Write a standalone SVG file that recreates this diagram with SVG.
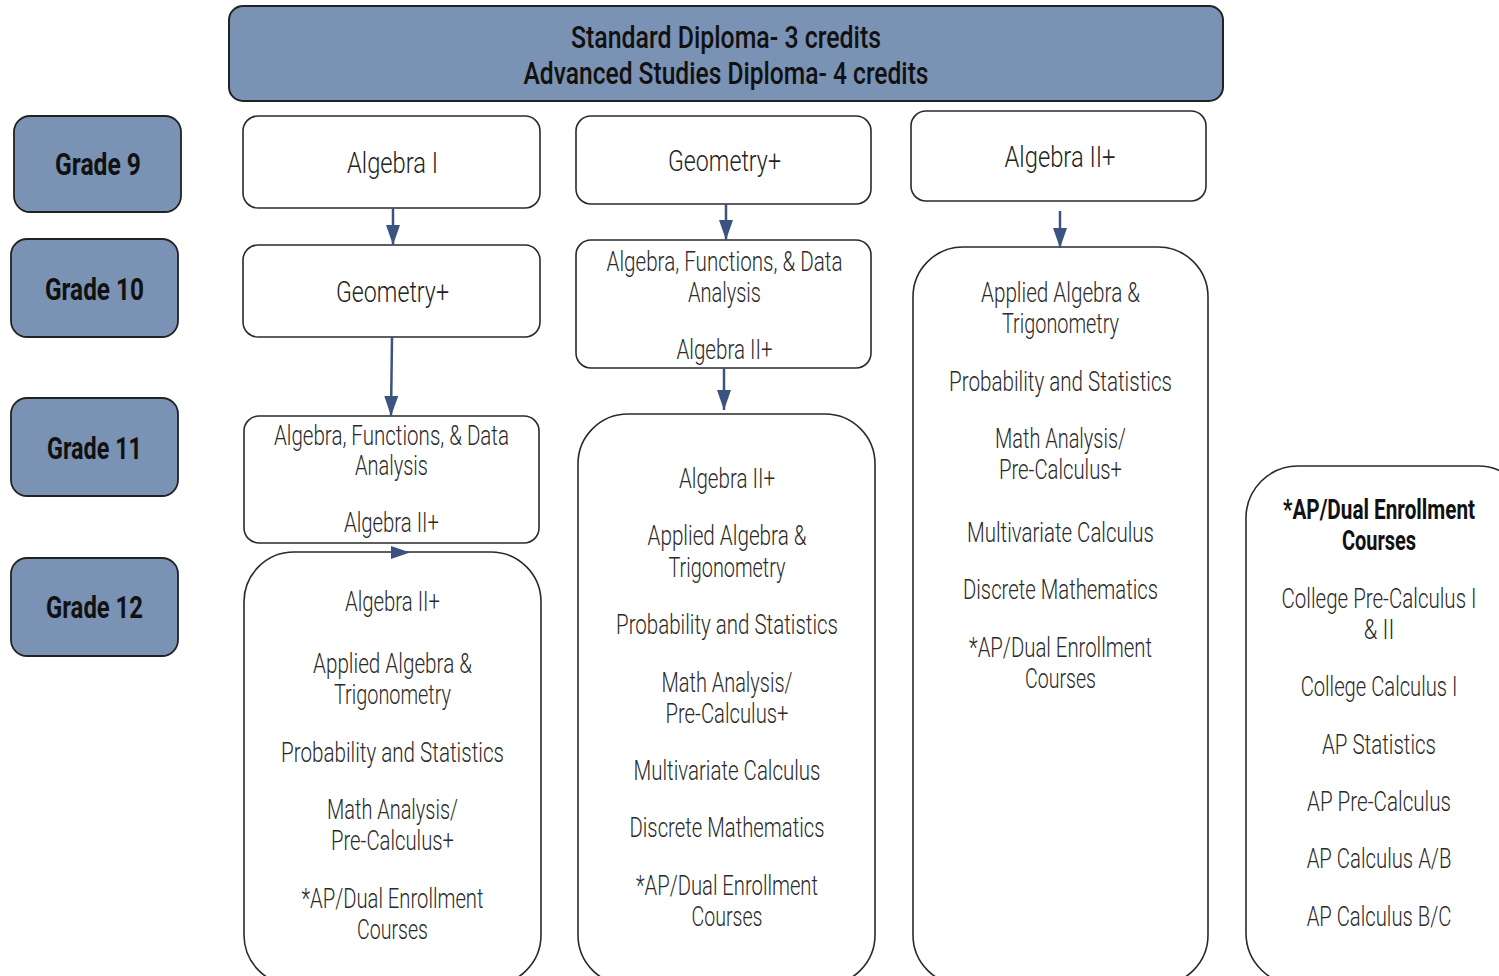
<svg xmlns="http://www.w3.org/2000/svg" width="1499" height="976" viewBox="0 0 1499 976">
<defs>
<style>
.hdr{fill:#7a92b3;stroke:#222;stroke-width:2}
.grade{fill:#7a92b3;stroke:#222;stroke-width:1.8}
.box{fill:#fff;stroke:#2a2a2a;stroke-width:1.6}
text{font-family:Roboto,"Liberation Sans",sans-serif;text-anchor:middle}
.ht{font-size:31px;font-weight:500;fill:#111}
.gt{font-size:31px;font-weight:700;fill:#111}
.tt{font-size:30px;font-weight:300;fill:#222}
.lt{font-size:27px;font-weight:300;fill:#2a2a2a}
.bt{font-size:27px;font-weight:700;fill:#111}
.conn{stroke:#3b5380;stroke-width:2.5;fill:none}
</style>
<marker id="ah" markerUnits="userSpaceOnUse" markerWidth="20" markerHeight="14" refX="20" refY="7" orient="auto" viewBox="0 0 20 14">
<path d="M0,0 L20,7 L0,14 z" fill="#3b5380"/>
</marker>
</defs>

<g id="header">
<rect class="hdr" x="229" y="6" width="994" height="95" rx="14"/>
<text class="ht" x="726" y="48" textLength="310" lengthAdjust="spacingAndGlyphs">Standard Diploma- 3 credits</text>
<text class="ht" x="726" y="84" textLength="405" lengthAdjust="spacingAndGlyphs">Advanced Studies Diploma- 4 credits</text>
</g>

<g id="grade9">
<rect class="grade" x="14" y="116" width="167" height="96" rx="16"/>
<text class="gt" x="98" y="175" textLength="86" lengthAdjust="spacingAndGlyphs">Grade 9</text>
</g>
<g id="grade10">
<rect class="grade" x="11" y="239" width="167" height="98" rx="16"/>
<text class="gt" x="94.5" y="300" textLength="99" lengthAdjust="spacingAndGlyphs">Grade 10</text>
</g>
<g id="grade11">
<rect class="grade" x="11" y="398" width="167" height="98" rx="16"/>
<text class="gt" x="94.5" y="459" textLength="95" lengthAdjust="spacingAndGlyphs">Grade 11</text>
</g>
<g id="grade12">
<rect class="grade" x="11" y="558" width="167" height="98" rx="16"/>
<text class="gt" x="94.5" y="618" textLength="97" lengthAdjust="spacingAndGlyphs">Grade 12</text>
</g>

<g id="c1-algebra1">
<rect class="box" x="243" y="116" width="297" height="92" rx="15"/>
<text class="tt" x="392.5" y="173" textLength="91" lengthAdjust="spacingAndGlyphs">Algebra I</text>
</g>
<g id="c1-geometry">
<rect class="box" x="243" y="245" width="297" height="92" rx="15"/>
<text class="tt" x="392.5" y="302" textLength="113" lengthAdjust="spacingAndGlyphs">Geometry+</text>
</g>
<g id="c1-afda">
<rect class="box" x="244" y="416" width="295" height="127" rx="15"/>
<text class="lt" x="391.5" y="445" textLength="235" lengthAdjust="spacingAndGlyphs">Algebra, Functions, &amp; Data</text>
<text class="lt" x="391.5" y="475" textLength="73" lengthAdjust="spacingAndGlyphs">Analysis</text>
<text class="lt" x="391.5" y="532" textLength="95" lengthAdjust="spacingAndGlyphs">Algebra II+</text>
</g>
<g id="c1-grade12">
<rect class="box" x="244" y="552" width="297" height="433" rx="50"/>
<text class="lt" x="392.5" y="611" textLength="95" lengthAdjust="spacingAndGlyphs">Algebra II+</text>
<text class="lt" x="392.5" y="673" textLength="159" lengthAdjust="spacingAndGlyphs">Applied Algebra &amp;</text>
<text class="lt" x="392.5" y="704" textLength="117" lengthAdjust="spacingAndGlyphs">Trigonometry</text>
<text class="lt" x="392.5" y="762" textLength="223" lengthAdjust="spacingAndGlyphs">Probability and Statistics</text>
<text class="lt" x="392.5" y="819" textLength="131" lengthAdjust="spacingAndGlyphs">Math Analysis/</text>
<text class="lt" x="392.5" y="850" textLength="123" lengthAdjust="spacingAndGlyphs">Pre-Calculus+</text>
<text class="lt" x="392.5" y="908" textLength="182" lengthAdjust="spacingAndGlyphs">*AP/Dual Enrollment</text>
<text class="lt" x="392.5" y="939" textLength="71" lengthAdjust="spacingAndGlyphs">Courses</text>
</g>

<g id="c2-geometry">
<rect class="box" x="576" y="116" width="295" height="88" rx="15"/>
<text class="tt" x="724.5" y="171" textLength="113" lengthAdjust="spacingAndGlyphs">Geometry+</text>
</g>
<g id="c2-afda">
<rect class="box" x="576" y="240" width="295" height="128" rx="15"/>
<text class="lt" x="724.5" y="271" textLength="236" lengthAdjust="spacingAndGlyphs">Algebra, Functions, &amp; Data</text>
<text class="lt" x="724.5" y="302" textLength="73" lengthAdjust="spacingAndGlyphs">Analysis</text>
<text class="lt" x="724.5" y="359" textLength="96" lengthAdjust="spacingAndGlyphs">Algebra II+</text>
</g>
<g id="c2-upper">
<rect class="box" x="578" y="414" width="297" height="571" rx="50"/>
<text class="lt" x="727" y="488" textLength="96" lengthAdjust="spacingAndGlyphs">Algebra II+</text>
<text class="lt" x="727" y="545" textLength="159" lengthAdjust="spacingAndGlyphs">Applied Algebra &amp;</text>
<text class="lt" x="727" y="577" textLength="117" lengthAdjust="spacingAndGlyphs">Trigonometry</text>
<text class="lt" x="727" y="634" textLength="222" lengthAdjust="spacingAndGlyphs">Probability and Statistics</text>
<text class="lt" x="727" y="692" textLength="131" lengthAdjust="spacingAndGlyphs">Math Analysis/</text>
<text class="lt" x="727" y="723" textLength="123" lengthAdjust="spacingAndGlyphs">Pre-Calculus+</text>
<text class="lt" x="727" y="780" textLength="187" lengthAdjust="spacingAndGlyphs">Multivariate Calculus</text>
<text class="lt" x="727" y="837" textLength="195" lengthAdjust="spacingAndGlyphs">Discrete Mathematics</text>
<text class="lt" x="727" y="895" textLength="182" lengthAdjust="spacingAndGlyphs">*AP/Dual Enrollment</text>
<text class="lt" x="727" y="926" textLength="71" lengthAdjust="spacingAndGlyphs">Courses</text>
</g>

<g id="c3-algebra2">
<rect class="box" x="911" y="111" width="295" height="90" rx="15"/>
<text class="tt" x="1060" y="167" textLength="111" lengthAdjust="spacingAndGlyphs">Algebra II+</text>
</g>
<g id="c3-upper">
<rect class="box" x="913" y="247" width="295" height="738" rx="50"/>
<text class="lt" x="1060.5" y="302" textLength="159" lengthAdjust="spacingAndGlyphs">Applied Algebra &amp;</text>
<text class="lt" x="1060.5" y="333" textLength="117" lengthAdjust="spacingAndGlyphs">Trigonometry</text>
<text class="lt" x="1060.5" y="391" textLength="223" lengthAdjust="spacingAndGlyphs">Probability and Statistics</text>
<text class="lt" x="1060.5" y="448" textLength="131" lengthAdjust="spacingAndGlyphs">Math Analysis/</text>
<text class="lt" x="1060.5" y="479" textLength="123" lengthAdjust="spacingAndGlyphs">Pre-Calculus+</text>
<text class="lt" x="1060.5" y="542" textLength="187" lengthAdjust="spacingAndGlyphs">Multivariate Calculus</text>
<text class="lt" x="1060.5" y="599" textLength="195" lengthAdjust="spacingAndGlyphs">Discrete Mathematics</text>
<text class="lt" x="1060.5" y="657" textLength="183" lengthAdjust="spacingAndGlyphs">*AP/Dual Enrollment</text>
<text class="lt" x="1060.5" y="688" textLength="71" lengthAdjust="spacingAndGlyphs">Courses</text>
</g>

<g id="c4-ap">
<rect class="box" x="1246" y="466" width="284" height="519" rx="52"/>
<g transform="translate(1379 0) scale(0.75 1)">
<text class="bt" x="0" y="519" textLength="256" lengthAdjust="spacingAndGlyphs">*AP/Dual Enrollment</text>
<text class="bt" x="0" y="550" textLength="99" lengthAdjust="spacingAndGlyphs">Courses</text>
<text class="lt" x="0" y="608" textLength="260" lengthAdjust="spacingAndGlyphs">College Pre-Calculus I</text>
<text class="lt" x="0" y="639" textLength="41" lengthAdjust="spacingAndGlyphs">&amp; II</text>
<text class="lt" x="0" y="696" textLength="209" lengthAdjust="spacingAndGlyphs">College Calculus I</text>
<text class="lt" x="0" y="754" textLength="152" lengthAdjust="spacingAndGlyphs">AP Statistics</text>
<text class="lt" x="0" y="811" textLength="192" lengthAdjust="spacingAndGlyphs">AP Pre-Calculus</text>
<text class="lt" x="0" y="868" textLength="193" lengthAdjust="spacingAndGlyphs">AP Calculus A/B</text>
<text class="lt" x="0" y="926" textLength="193" lengthAdjust="spacingAndGlyphs">AP Calculus B/C</text>
</g>
</g>

<g id="connectors">
<line class="conn" x1="393" y1="208" x2="393" y2="245" marker-end="url(#ah)"/>
<line class="conn" x1="392" y1="337" x2="391" y2="416" marker-end="url(#ah)"/>
<line class="conn" x1="726" y1="204" x2="726" y2="240" marker-end="url(#ah)"/>
<line class="conn" x1="724" y1="368" x2="724" y2="410" marker-end="url(#ah)"/>
<line class="conn" x1="1060" y1="211" x2="1060" y2="248" marker-end="url(#ah)"/>
<polygon points="391,546 410,552.5 391,559" fill="#3b5380"/>
</g>
</svg>
